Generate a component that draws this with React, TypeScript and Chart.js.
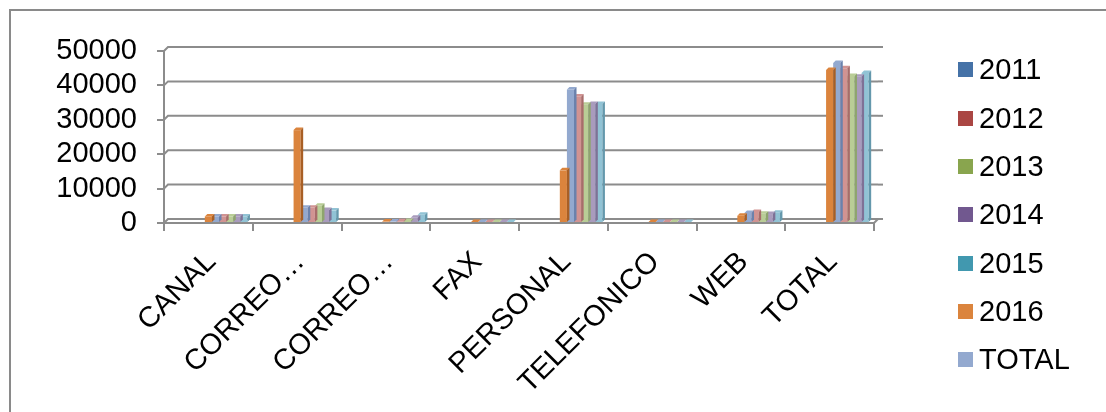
import React, { useEffect, useRef } from "react";
import { Chart, registerables } from "chart.js";

Chart.register(...registerables);

const categories = ["CANAL", "CORREO…", "CORREO…", "FAX", "PERSONAL", "TELEFONICO", "WEB", "TOTAL"];

const seriesNames = ["2011", "2012", "2013", "2014", "2015", "2016", "TOTAL", "Serie 8", "Serie 9", "Serie 10", "Serie 11"];

const s2011 = [0, 0, 0, 0, 0, 0, 0, 0];
const s2012 = [0, 0, 0, 0, 0, 0, 0, 0];
const s2013 = [0, 0, 0, 0, 0, 0, 0, 0];
const s2014 = [0, 0, 0, 0, 0, 0, 0, 0];
const s2015 = [0, 0, 0, 0, 0, 0, 0, 0];
const s2016 = [1900, 27000, 400, 300, 15300, 300, 2100, 44500];
const sTotal = [1900, 4400, 400, 300, 38800, 300, 2900, 46500];
const s8 = [1900, 4400, 500, 300, 36800, 300, 3200, 45000];
const s9 = [1900, 5000, 600, 300, 34400, 300, 2700, 42700];
const s10 = [1900, 3800, 1500, 300, 34600, 300, 2600, 42500];
const s11 = [1900, 3600, 2400, 300, 34600, 300, 3000, 43600];

const seriesValues = [s2011, s2012, s2013, s2014, s2015, s2016, sTotal, s8, s9, s10, s11];

const seriesColors = [
  "#4572A7", "#AA4643", "#89A54E", "#71588F", "#4198AF", "#DB843D",
  "#93A9CF", "#D19392", "#B9CD96", "#A99BBD", "#91C3D5",
];
const seriesSideColors = [
  "#2f5381", "#7d2f2d", "#637a36", "#503d69", "#2c7083", "#a85f25",
  "#6a82ad", "#a86c6b", "#8ea56d", "#7f7196", "#6498ac",
];

const legendCount = 7;
const yTicks = [0, 10000, 20000, 30000, 40000, 50000];

const FONT = '"Liberation Sans", Arial, sans-serif';
const GRID = "#8c8c8c";
const DEPTH = 4;

const backWall = {
  id: "backWall",
  beforeDatasetsDraw(chart: any) {
    const ctx = chart.ctx;
    const y = chart.scales.y;
    const { left, right } = chart.chartArea;
    ctx.save();
    ctx.strokeStyle = GRID;
    ctx.lineWidth = 2;
    yTicks.forEach((v) => {
      const py = y.getPixelForValue(v);
      ctx.beginPath();
      ctx.moveTo(left, py);
      ctx.lineTo(left + DEPTH, py - DEPTH);
      ctx.lineTo(right + DEPTH, py - DEPTH);
      ctx.stroke();
      ctx.beginPath();
      ctx.moveTo(right + DEPTH, py - DEPTH);
      ctx.lineTo(right + DEPTH + 5, py - DEPTH);
      ctx.stroke();
    });
    const p0 = y.getPixelForValue(0);
    ctx.beginPath();
    ctx.moveTo(right, p0);
    ctx.lineTo(right + DEPTH, p0 - DEPTH);
    ctx.stroke();
    ctx.restore();
  },
};

const bar3d = {
  id: "bar3d",
  afterDatasetDraw(chart: any, args: any) {
    const i = args.index;
    const meta = args.meta;
    const ctx = chart.ctx;
    const d = 2.5;
    ctx.save();
    meta.data.forEach((el: any, j: number) => {
      const v = seriesValues[i][j];
      if (!v) return;
      const { x, y, base, width } = el.getProps(["x", "y", "base", "width"], true);
      const l = x - width / 2;
      const r = x + width / 2;
      ctx.fillStyle = seriesColors[i];
      ctx.beginPath();
      ctx.moveTo(l, y);
      ctx.lineTo(l + d, y - d);
      ctx.lineTo(r + d, y - d);
      ctx.lineTo(r, y);
      ctx.closePath();
      ctx.fill();
      ctx.fillStyle = seriesSideColors[i];
      ctx.beginPath();
      ctx.moveTo(r, y);
      ctx.lineTo(r + d, y - d);
      ctx.lineTo(r + d, base - d);
      ctx.lineTo(r, base);
      ctx.closePath();
      ctx.fill();
    });
    ctx.restore();
  },
};

export default function App() {
  const ref = useRef<HTMLCanvasElement>(null);

  useEffect(() => {
    const chart = new Chart(ref.current!, {
      type: "bar",
      data: {
        labels: categories,
        datasets: seriesValues.map((d, i) => ({
          label: seriesNames[i],
          data: d,
          backgroundColor: seriesColors[i],
          borderWidth: 0,
          categoryPercentage: 0.88,
          barPercentage: 1,
        })),
      },
      plugins: [backWall, bar3d],
      options: {
        animation: false,
        responsive: false,
        maintainAspectRatio: false,
        layout: { padding: { left: 0, top: 51, right: 232, bottom: 0 } },
        plugins: { legend: { display: false }, tooltip: { enabled: false } },
        scales: {
          x: {
            grid: { display: true, drawOnChartArea: false, drawTicks: true, tickLength: 8, color: GRID, lineWidth: 2 },
            border: { display: true, color: GRID, width: 2 },
            ticks: {
              font: { family: FONT, size: 29 },
              color: "#000",
              maxRotation: 45,
              minRotation: 45,
              autoSkip: false,
              padding: 14,
              labelOffset: 3,
            },
            afterFit: (s: any) => {
              s.height = 189;
            },
          },
          y: {
            min: 0,
            max: yTicks[yTicks.length - 1],
            afterBuildTicks: (s: any) => {
              s.ticks = yTicks.map((v) => ({ value: v }));
            },
            ticks: {
              font: { family: FONT, size: 29, lineHeight: 1 },
              color: "#000",
              padding: 20,
              autoSkip: false,
              callback: (v: any) => String(v),
            },
            grid: { drawOnChartArea: false, drawTicks: true, color: GRID, lineWidth: 2, tickLength: 7 },
            border: { display: true, color: GRID, width: 2 },
            afterFit: (s: any) => {
              s.width = 164;
            },
          },
        },
      },
    });
    return () => chart.destroy();
  }, []);

  const rowY = [69, 118, 166, 214, 263, 311, 359];

  return (
    <div style={{ position: "fixed", left: 0, top: 0, width: 1106, height: 412, overflow: "hidden", background: "#fff" }}>
      <div
        style={{
          position: "absolute",
          left: 9,
          top: 9,
          width: 1200,
          height: 500,
          borderLeft: "2px solid #8a8a8a",
          borderTop: "2px solid #8a8a8a",
        }}
      />
      <canvas ref={ref} width={1106} height={412} style={{ position: "absolute", left: 0, top: 0, display: "block" }} />
      {seriesNames.slice(0, legendCount).map((name, i) => (
        <div
          key={i}
          style={{
            position: "absolute",
            left: 958,
            top: rowY[i] - 17,
            height: 34,
            display: "flex",
            alignItems: "center",
            fontFamily: FONT,
            fontSize: 29,
            color: "#000",
            whiteSpace: "nowrap",
          }}
        >
          <span style={{ display: "inline-block", width: 15, height: 15, background: seriesColors[i], marginRight: 6 }} />
          <span>{name}</span>
        </div>
      ))}
    </div>
  );
}
